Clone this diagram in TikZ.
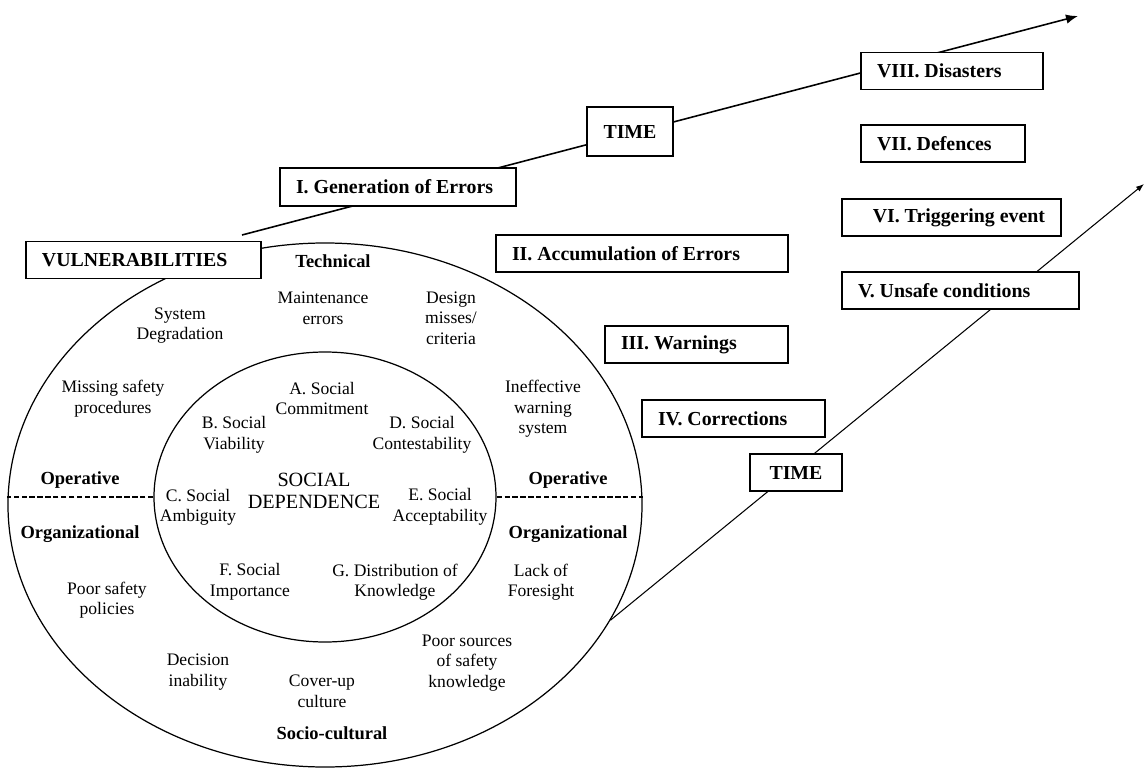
\documentclass[tikz,border=0pt]{standalone}
\usepackage{fontspec}
\setmainfont{Liberation Serif}
\usetikzlibrary{shapes.geometric,arrows.meta}

\tikzset{
  stagebox/.style={draw, line width=1pt, fill=white, font=\fontsize{11.3}{13}\selectfont\bfseries,
    inner xsep=0.32cm, inner ysep=0pt, minimum height=0.74cm, align=flush left},
  timebox/.style={stagebox, align=center, inner xsep=0pt},
  lbl/.style={font=\fontsize{10}{11.7}\selectfont, align=center, inner sep=0pt},
  zone/.style={font=\fontsize{10.5}{12}\selectfont\bfseries, inner sep=0pt},
  ring/.style={draw, ellipse, line width=0.7pt, inner sep=0pt},
  sep/.style={line width=0.7pt, dash pattern=on 3pt off 1.5pt}
}

\begin{document}
\begin{tikzpicture}[scale=1]
\useasboundingbox (0,0) rectangle (22.94,-15.36);

% Ellipses
\node[ring, minimum width=12.68cm, minimum height=10.48cm] (outer) at (6.50,-10.10) {};
\node[ring, minimum width=6.84cm, minimum height=5.80cm] (inner) at (6.50,-9.94) {};

% Separations
\draw[sep] (inner.west) -- (inner.west -| outer.west);
\draw[sep] (inner.east) -- (inner.east -| outer.east);

% Zones
\node[zone] (technical) at (6.66,-5.22) {Technical};
\node[zone] (oper1) at (1.60,-9.60) {Operative};
\node[zone] (oper2) at (11.36,-9.60) {Operative};
\node[zone] (org1) at (1.60,-10.68) {Organizational};
\node[zone] (org2) at (11.36,-10.68) {Organizational};
\node[zone] (socio) at (6.64,-14.66) {Socio-cultural};

% Vulnerabilites
\node[lbl] (maint) at (6.46,-6.16) {Maintenance\\errors};
\node[lbl] (sysdeg) at (3.60,-6.51) {System\\Degradation};
\node[lbl] (design) at (9.02,-6.36) {Design\\misses/\\criteria};
\node[lbl] (missing) at (2.26,-7.97) {Missing safety\\procedures};
\node[lbl] (ineff) at (10.86,-8.18) {Ineffective\\warning\\system};
\node[lbl] (lack) at (10.82,-11.64) {Lack of\\Foresight};
\node[lbl] (poorpol) at (2.14,-12.00) {Poor safety\\policies};
\node[lbl] (poorsrc) at (9.34,-13.26) {Poor sources\\of safety\\knowledge};
\node[lbl] (decision) at (3.96,-13.44) {Decision\\inability};
\node[lbl] (coverup) at (6.44,-13.83) {Cover-up\\culture};

% Dependance sociale
\node[lbl, font=\fontsize{11.5}{12.5}\selectfont] (socdep) at (6.28,-9.82) {SOCIAL\\DEPENDENCE};
\node[lbl] (soca) at (6.44,-7.97) {A. Social\\Commitment};
\node[lbl] (socb) at (4.68,-8.70) {B. Social\\Viability};
\node[lbl] (socc) at (3.96,-10.15) {C. Social\\Ambiguity};
\node[lbl] (socd) at (8.44,-8.70) {D. Social\\Contestability};
\node[lbl] (soce) at (8.80,-10.14) {E. Social\\Acceptability};
\node[lbl] (socf) at (5.00,-11.64) {F. Social\\Importance};
\node[lbl] (socg) at (7.90,-11.64) {G. Distribution of\\Knowledge};

% Axes du temps
\coordinate (t0) at (4.84,-4.70);
\coordinate (t1) at (21.56,-0.32);
\coordinate (t2) at (22.88,-3.68);
\draw[line width=0.9pt, -{Latex[length=2.4mm,width=1.9mm]}] (t0) -- (t1);
\draw[line width=0.6pt, -{Latex[length=1.6mm,width=1.2mm]}] (outer.-22.7) -- (t2);

% Etapes
\node[stagebox, text width=4.06cm] (vuln) at (2.87,-5.20) {VULNERABILITIES};
\node[stagebox, text width=4.08cm, minimum height=0.76cm] (gen) at (7.96,-3.74) {I. Generation of Errors};
\node[stagebox, text width=5.20cm] (accum) at (12.84,-5.07) {II. Accumulation of Errors};
\node[stagebox, text width=3.02cm] (warn) at (13.93,-6.89) {III. Warnings};
\node[stagebox, text width=3.02cm] (corr) at (14.67,-8.37) {IV. Corrections};
\node[stagebox, text width=4.10cm] (unsafe) at (19.21,-5.81) {V. Unsafe conditions};
\node[stagebox, text width=3.74cm, align=flush right] (trig) at (19.03,-4.35) {VI. Triggering event};
\node[stagebox, text width=2.64cm] (def) at (18.86,-2.87) {VII. Defences};
\node[stagebox, text width=3.00cm] (disas) at (19.04,-1.42) {VIII. Disasters};
\node[timebox, text width=1.72cm, minimum height=0.98cm] (time1) at (12.60,-2.63) {TIME};
\node[timebox, text width=1.84cm] (time2) at (15.92,-9.45) {TIME};

\end{tikzpicture}
\end{document}
